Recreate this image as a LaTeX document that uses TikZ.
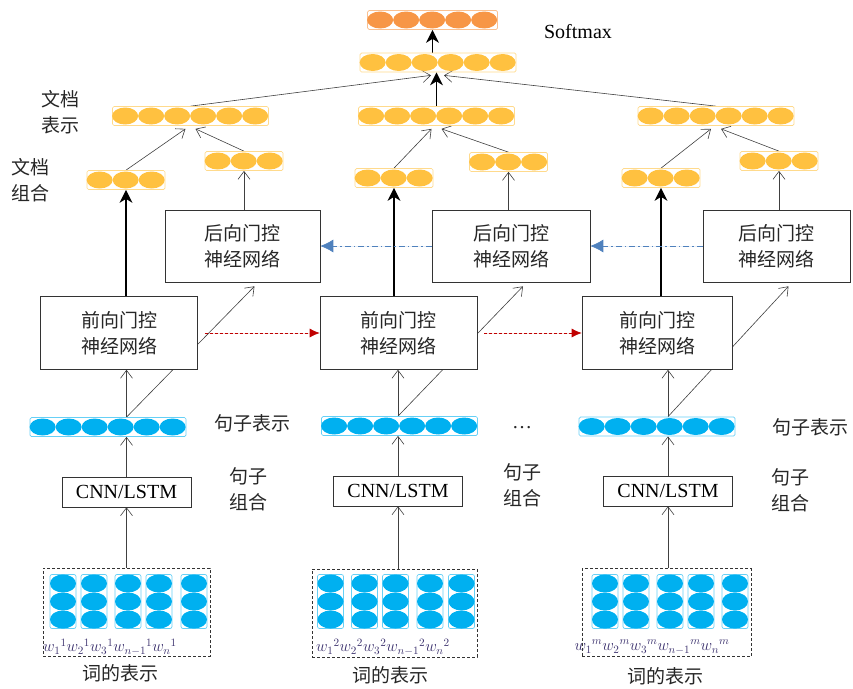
\RequirePackage{fix-cm}
\documentclass[tikz,border=0pt]{standalone}
\usepackage{fontspec}
\setmainfont{Liberation Serif}
\newfontfamily\cjk{Noto Sans CJK SC}
\usetikzlibrary{arrows.meta,positioning,calc,backgrounds}

\definecolor{cellblue}{RGB}{0,176,240}
\definecolor{cellyellow}{RGB}{255,193,64}
\definecolor{cellorange}{RGB}{247,150,70}
\definecolor{linkblue}{RGB}{79,129,189}
\definecolor{linkred}{RGB}{192,0,0}
\definecolor{wordink}{RGB}{60,50,110}

% row of cells: name, centre, count, colour
\newcommand{\cellrow}[4]{%
  \node[cellframe, draw=#4!60, minimum width=#3*26pt] (#1) at (#2) {};
  \foreach \k in {1,...,#3}
    \fill[#4] ([xshift=\k*26pt-13pt]#1.west) ellipse [x radius=13pt, y radius=8.5pt];
}
% column of three word cells: name, centre
\newcommand{\wordcol}[2]{%
  \node[colframe] (#1) at (#2) {};
  \foreach \dy in {-18,0,18}
    \fill[cellblue] ([yshift=\dy pt]#1.center) ellipse [x radius=13pt, y radius=9pt];
}

\begin{document}
\begin{tikzpicture}[x=1pt, y=-1pt,
    block/.style={draw=black!80, fill=white, line width=0.6pt, minimum width=157pt, minimum height=73pt, align=center, text=black!85, font=\cjk\fontsize{19}{26}\selectfont},
    cnnbox/.style={draw=black!80, fill=white, line width=0.6pt, minimum width=129pt, minimum height=30pt, inner sep=0pt, font=\fontsize{20}{24}\selectfont},
    wordbox/.style={draw=black!80, dash pattern=on 3pt off 2pt, line width=0.6pt, minimum width=167pt, minimum height=88pt},
    cellframe/.style={rectangle, rounded corners=1.5pt, minimum height=19pt, inner sep=0pt, line width=0.7pt},
    colframe/.style={rectangle, rounded corners=2pt, draw=cellblue!60, minimum width=26pt, minimum height=54pt, inner sep=0pt, line width=0.7pt},
    note/.style={font=\cjk\fontsize{19}{26}\selectfont, text=black!85, inner sep=0pt},
    wordtext/.style={font=\fontsize{16}{18}\selectfont, text=wordink, inner sep=0pt},
    flow/.style={-{Straight Barb[length=8pt,width=12pt]}, line width=0.6pt, draw=black!75},
    mainflow/.style={-{Stealth[length=13pt,width=13pt,inset=4pt]}, line width=1.4pt, draw=black},
    fwdlink/.style={-{Latex[length=10pt,width=9pt]}, dash pattern=on 3pt off 2pt, draw=linkred, fill=linkred, line width=0.7pt},
    bwdlink/.style={-{Latex[length=13pt,width=13pt]}, dash pattern=on 6pt off 3pt on 1.5pt off 3pt, draw=linkblue, fill=linkblue, line width=0.7pt},
]
\useasboundingbox (0,0) rectangle (853,688);

% Word representations
\node[wordbox] (wd1) at (126.5,612) {};
\node[wordbox, minimum width=165pt] (wd2) at (394.5,613) {};
\node[wordbox, minimum width=169pt] (wd3) at (666.5,612.5) {};
\foreach \cx [count=\i] in {63,94,128,159,194} \wordcol{wa\i}{\cx,601.5};
\foreach \cx [count=\i] in {330.5,364.5,395.5,430,461.5} \wordcol{wb\i}{\cx,601.5};
\foreach \cx [count=\i] in {605,636,670,701,735} \wordcol{wc\i}{\cx,601.5};
\node[wordtext] (wn1) at (110,647) {${w_1}^1{w_2}^1{w_3}^1{w_{n-1}}^1{w_n}^1$};
\node[wordtext] (wn2) at (383,647) {${w_1}^2{w_2}^2{w_3}^2{w_{n-1}}^2{w_n}^2$};
\node[wordtext] (wn3) at (652,647) {${w_1}^m{w_2}^m{w_3}^m{w_{n-1}}^m{w_n}^m$};
\node[note] (wcap1) at (120,673) {词的表示};
\node[note] (wcap2) at (390,675) {词的表示};
\node[note] (wcap3) at (665,676) {词的表示};

% Sentence composition
\node[cnnbox] (cnn1) at (126.5,492) {CNN/LSTM};
\node[cnnbox] (cnn2) at (398,491) {CNN/LSTM};
\node[cnnbox] (cnn3) at (668,491) {CNN/LSTM};
\cellrow{s1}{108,427}{6}{cellblue}
\cellrow{s2}{399.5,426}{6}{cellblue}
\cellrow{s3}{657,426.5}{6}{cellblue}

% Gated networks
\node[block] (fw1) at (119,333) {前向门控\\神经网络};
\node[block] (fw2) at (398.5,333) {前向门控\\神经网络};
\node[block, minimum width=150pt] (fw3) at (657,333) {前向门控\\神经网络};
\node[block, minimum width=155pt, minimum height=72pt] (bw1) at (242.5,246) {后向门控\\神经网络};
\node[block, minimum width=158pt, minimum height=72pt] (bw2) at (511,246) {后向门控\\神经网络};
\node[block, minimum width=147pt, minimum height=72pt] (bw3) at (776.5,246) {后向门控\\神经网络};

% Document composition and representation
\cellrow{dc1}{126,180}{3}{cellyellow}
\cellrow{dc2}{394,178}{3}{cellyellow}
\cellrow{dc3}{661,178}{3}{cellyellow}
\cellrow{bv1}{244,161}{3}{cellyellow}
\cellrow{bv2}{508.5,162}{3}{cellyellow}
\cellrow{bv3}{779,161}{3}{cellyellow}
\cellrow{dr1}{190.5,116}{6}{cellyellow}
\cellrow{dr2}{436.5,116}{6}{cellyellow}
\cellrow{dr3}{716,116}{6}{cellyellow}
\cellrow{merge}{438,62.5}{6}{cellyellow}
\cellrow{out}{432.5,20}{5}{cellorange}

% Labels
\node[note, anchor=west, align=left] (docrep) at (41,112.5) {文档\\表示};
\node[note, anchor=west, align=left] (doccomb) at (11,180) {文档\\组合};
\node[note] (srep1) at (252,423) {句子表示};
\node[note, align=left] (scomb1) at (248,489) {句子\\组合};
\node[note, font=\fontsize{20}{24}\selectfont] (dots) at (522,428) {\ldots};
\node[note, align=left] (scomb2) at (522,485) {句子\\组合};
\node[note] (srep3) at (810,427) {句子表示};
\node[note, align=left] (scomb3) at (790,490) {句子\\组合};
\node[font=\fontsize{20}{24}\selectfont] (softmax) at (578,32) {Softmax};

\begin{scope}[on background layer]
\foreach \i in {1,2,3} {
  \coordinate (tip\i) at ([xshift=12pt,yshift=-4pt]bw\i.south);
  \draw[flow] (wd\i.north -| cnn\i) -- (cnn\i.south);
  \draw[flow] (cnn\i.north) -- (cnn\i.north |- s\i.south);
  \draw[flow] (s\i.north -| cnn\i) -- (fw\i.south -| cnn\i);
  \draw[flow] (s\i.north -| cnn\i) -- (tip\i);
  \draw[mainflow] (fw\i.north -| dc\i) -- (dc\i.south);
  \draw[flow] (bw\i.north -| bv\i) -- (bv\i.south);
  \draw[flow] (dc\i.north) -- ([xshift=-5pt,yshift=-3pt]dr\i.south);
  \draw[flow] (bv\i.north) -- ([xshift=5pt,yshift=-3pt]dr\i.south);
}
\draw[flow] (dr1.north) -- ([xshift=-7pt,yshift=-3pt]merge.south);
\draw[flow] (dr3.north) -- ([xshift=6pt,yshift=-3pt]merge.south);
\draw[mainflow] (dr2.north) -- (dr2.north |- merge.south);
\draw[mainflow] (merge.north -| out) -- (out.south);

% Recurrent links
\draw[fwdlink] ([xshift=7pt]fw1.east) -- (fw2.west);
\draw[fwdlink] ([xshift=7pt]fw2.east) -- (fw3.west);
\draw[bwdlink] (bw2.west) -- (bw1.east);
\draw[bwdlink] (bw3.west) -- (bw2.east);
\end{scope}

\end{tikzpicture}
\end{document}
